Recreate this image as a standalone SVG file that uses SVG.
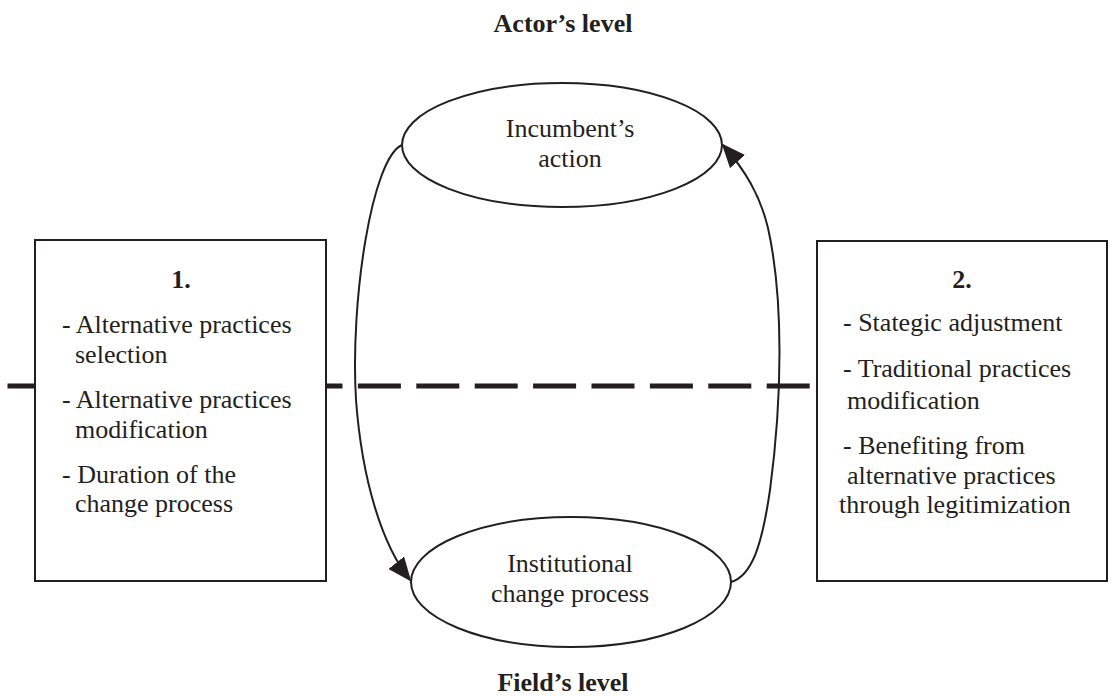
<svg xmlns="http://www.w3.org/2000/svg" width="1117" height="696" viewBox="0 0 1117 696">
<style>
text{font-family:"Liberation Serif","Times New Roman",serif;fill:#231f20}
.t{font-size:26px}
.b{font-size:26px;font-weight:bold}
.n{font-size:26px;font-weight:bold}
.c{text-anchor:middle}
.box{fill:#fff;stroke:#231f20;stroke-width:2}
.ell{fill:#fff;stroke:#231f20;stroke-width:2}
.conn{fill:none;stroke:#231f20;stroke-width:2}
</style>
<defs>
<marker id="ah" markerUnits="userSpaceOnUse" markerWidth="26" markerHeight="22" refX="22" refY="10" orient="auto">
<path d="M0,0 L24,10 L0,20 Z" fill="#231f20"/>
</marker>
</defs>
<rect width="1117" height="696" fill="#fff"/>
<text class="b c" x="563" y="32">Actor’s level</text>
<text class="b c" x="563" y="691">Field’s level</text>
<line id="divider" x1="7.5" y1="386" x2="1117" y2="386" stroke="#231f20" stroke-width="5" stroke-dasharray="43 15.4"/>
<g id="connectors">
<path class="conn" d="M402,145 C372,158 350,300 356,400 C362,480 382,545 410,580" marker-end="url(#ah)"/>
<path class="conn" d="M731,582 C752,576 762,545 770,490 C782,400 784,300 768,228 C760,195 745,170 723,145" marker-end="url(#ah)"/>
</g>
<g id="box1">
<rect class="box" x="35" y="240" width="291" height="341"/>
<text class="n c" x="181" y="288">1.</text>
<text class="t" x="62" y="333">- Alternative practices</text>
<text class="t" x="75" y="363">selection</text>
<text class="t" x="62" y="408">- Alternative practices</text>
<text class="t" x="75" y="438">modification</text>
<text class="t" x="62" y="483">- Duration of the</text>
<text class="t" x="75" y="512">change process</text>
</g>
<g id="box2">
<rect class="box" x="817" y="241" width="290" height="340"/>
<text class="n c" x="962" y="288">2.</text>
<text class="t" x="843" y="331">- Stategic adjustment</text>
<text class="t" x="843" y="377">- Traditional practices</text>
<text class="t" x="847" y="409">modification</text>
<text class="t" x="843" y="454">- Benefiting from</text>
<text class="t" x="847" y="484">alternative practices</text>
<text class="t" x="839" y="513">through legitimization</text>
</g>
<g id="incumbent">
<ellipse class="ell" cx="562" cy="145" rx="160" ry="62"/>
<text class="t c" x="570" y="137">Incumbent’s</text>
<text class="t c" x="570" y="167">action</text>
</g>
<g id="institutional">
<ellipse class="ell" cx="571" cy="582" rx="160" ry="65"/>
<text class="t c" x="570" y="572">Institutional</text>
<text class="t c" x="570" y="602">change process</text>
</g>
</svg>
